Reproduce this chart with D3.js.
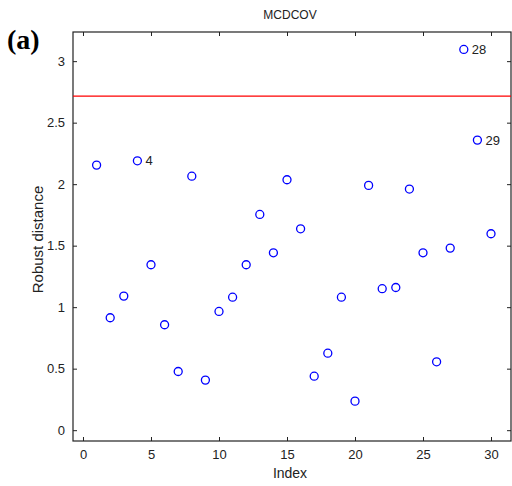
<!DOCTYPE html>
<html>
<head>
<meta charset="utf-8">
<script src="https://cdn.jsdelivr.net/npm/d3@7"></script>
<style>
body { margin: 0; background: #fff; }
svg text { font-family: "Liberation Sans", Arial, sans-serif; fill: #222; }
</style>
</head>
<body>
<svg id="chart" width="512" height="486"></svg>
<script>
'use strict';

var arrIndex = [1, 2, 3, 4, 5, 6, 7, 8, 9, 10, 11, 12, 13, 14, 15, 16, 17, 18, 19, 20, 21, 22, 23, 24, 25, 26, 27, 28, 29, 30];
var arrDistance = [2.155, 0.914, 1.09, 2.19, 1.345, 0.857, 0.477, 2.065, 0.407, 0.965,
	1.081, 1.345, 1.754, 1.442, 2.036, 1.637, 0.439, 0.626, 1.081, 0.236,
	1.99, 1.15, 1.16, 1.96, 1.442, 0.556, 1.48, 3.095, 2.358, 1.597];
var arrLabelled = [4, 28, 29];
var nCutoff = 2.716;
var arrXTicks = [0, 5, 10, 15, 20, 25, 30];
var arrYTicks = [0, 0.5, 1, 1.5, 2, 2.5, 3];

var svg = d3.select('#chart');

var nLeft = 73, nRight = 511, nTop = 32, nBottom = 441;

var xScale = d3.scaleLinear().domain([-0.735, 31.47]).range([nLeft, nRight]);
var yScale = d3.scaleLinear().domain([-0.088, 3.237]).range([nBottom, nTop]);

// axes: ticks inward on all four sides
var nTick = 4;
function drawAxis(axis, tx, ty, bLabels)
{
	var g = svg.append('g').attr('transform', 'translate(' + tx + ',' + ty + ')').call(axis);
	g.select('.domain').remove();
	g.selectAll('.tick line').attr('stroke', '#222');
	g.selectAll('.tick text').style('font-size', '13px');
	if (!bLabels) g.selectAll('.tick text').remove();
	return g;
}

var fmt = function(d) { return String(d); };
drawAxis(d3.axisBottom(xScale).tickValues(arrXTicks).tickFormat(fmt).tickSize(-nTick).tickPadding(9), 0, nBottom, true);
drawAxis(d3.axisTop(xScale).tickValues(arrXTicks).tickSize(-nTick), 0, nTop, false);
drawAxis(d3.axisLeft(yScale).tickValues(arrYTicks).tickFormat(fmt).tickSize(-nTick).tickPadding(8), nLeft, 0, true);
drawAxis(d3.axisRight(yScale).tickValues(arrYTicks).tickSize(-nTick), nRight, 0, false);

svg.append('rect')
	.attr('x', nLeft).attr('y', nTop)
	.attr('width', nRight - nLeft).attr('height', nBottom - nTop)
	.attr('fill', 'none').attr('stroke', '#222').attr('stroke-width', 1.2);

// cutoff line
svg.append('line')
	.attr('x1', nLeft).attr('x2', nRight)
	.attr('y1', yScale(nCutoff)).attr('y2', yScale(nCutoff))
	.attr('stroke', '#ff0000').attr('stroke-width', 1.2);

// points
svg.selectAll('circle.pt')
	.data(arrIndex)
	.enter()
	.append('circle')
	.attr('class', 'pt')
	.attr('cx', function(d) { return xScale(d); })
	.attr('cy', function(d, i) { return yScale(arrDistance[i]); })
	.attr('r', 4)
	.attr('fill', 'none')
	.attr('stroke', '#0000ff')
	.attr('stroke-width', 1.3);

svg.selectAll('text.lbl')
	.data(arrLabelled)
	.enter()
	.append('text')
	.attr('class', 'lbl')
	.attr('x', function(d) { return xScale(d) + 8; })
	.attr('y', function(d) { return yScale(arrDistance[d - 1]); })
	.attr('dy', '0.35em')
	.style('font-size', '13px')
	.text(function(d) { return d; });

// titles
svg.append('text')
	.attr('x', (nLeft + nRight) / 2 - 2).attr('y', 19)
	.attr('text-anchor', 'middle')
	.style('font-size', '12px')
	.text('MCDCOV');

svg.append('text')
	.attr('x', (nLeft + nRight) / 2 - 2).attr('y', 478)
	.attr('text-anchor', 'middle')
	.style('font-size', '14px')
	.text('Index');

svg.append('text')
	.attr('transform', 'translate(43,' + ((nTop + nBottom) / 2 + 3) + ') rotate(-90)')
	.attr('text-anchor', 'middle')
	.style('font-size', '15px')
	.text('Robust distance');

svg.append('text')
	.attr('x', 7).attr('y', 49)
	.style('font-family', '"Liberation Serif", "Times New Roman", serif')
	.style('font-weight', 'bold')
	.style('font-size', '28px')
	.style('fill', '#000')
	.text('(a)');
</script>
</body>
</html>
